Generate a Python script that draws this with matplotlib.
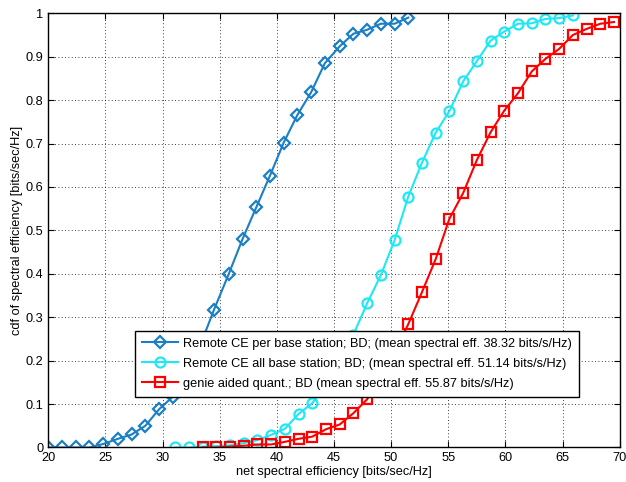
import matplotlib
matplotlib.use('Agg')
import matplotlib.pyplot as plt

plt.rcParams['font.family'] = ['Liberation Sans', 'DejaVu Sans']

# per base station remote CE
x_per = [20.0, 21.2, 22.4, 23.6, 24.8, 26.1, 27.3, 28.5, 29.7, 30.9, 32.1, 33.3, 34.5, 35.8,
         37.0, 38.2, 39.4, 40.6, 41.8, 43.0, 44.2, 45.5, 46.7, 47.9, 49.1, 50.3, 51.5]
cdf_per = [0, 0, 0, 0, 0.008, 0.02, 0.03, 0.05, 0.088, 0.117, 0.165, 0.235, 0.317, 0.40,
           0.48, 0.553, 0.626, 0.702, 0.766, 0.818, 0.885, 0.924, 0.953, 0.962, 0.976, 0.976, 0.99]

# all base station remote CE
x_all = [31.1, 32.3, 33.5, 34.7, 35.9, 37.1, 38.3, 39.5, 40.7, 41.9, 43.1, 44.3, 45.5, 46.7, 47.9,
         49.1, 50.3, 51.5, 52.7, 53.9, 55.1, 56.3, 57.5, 58.7, 59.9, 61.1, 62.3, 63.5, 64.7, 65.9]
cdf_all = [0, 0, 0.002, 0.003, 0.005, 0.01, 0.017, 0.029, 0.043, 0.077, 0.102, 0.145, 0.195, 0.26, 0.332,
           0.397, 0.477, 0.578, 0.656, 0.725, 0.775, 0.843, 0.89, 0.937, 0.958, 0.976, 0.977, 0.987, 0.989, 0.995]

# genie aided quantization
x_gen = [33.5, 34.7, 35.9, 37.1, 38.3, 39.5, 40.7, 41.9, 43.1, 44.3, 45.5, 46.7, 47.9, 49.1, 50.3, 51.5,
         52.7, 53.9, 55.1, 56.3, 57.5, 58.7, 59.9, 61.1, 62.3, 63.5, 64.7, 65.9, 67.1, 68.3, 69.5]
cdf_gen = [0, 0, 0.002, 0.004, 0.007, 0.007, 0.013, 0.02, 0.025, 0.042, 0.053, 0.079, 0.111, 0.16, 0.22, 0.284,
           0.358, 0.434, 0.527, 0.586, 0.662, 0.726, 0.776, 0.816, 0.866, 0.895, 0.918, 0.95, 0.964, 0.976, 0.98]

labels = ['Remote CE per base station; BD; (mean spectral eff. 38.32 bits/s/Hz)',
          'Remote CE all base station; BD; (mean spectral eff. 51.14 bits/s/Hz)',
          'genie aided quant.; BD (mean spectral eff. 55.87 bits/s/Hz)']

fs = 9.2
fig = plt.figure(figsize=(6.26, 4.82), dpi=100)
ax = fig.add_axes([0.077, 0.0716, 0.913, 0.9008])

ax.plot(x_per, cdf_per, '-D', color='#1a7fc4', lw=1.5, ms=6.5, mfc='none', mew=1.6, label=labels[0])
ax.plot(x_all, cdf_all, '-o', color='#1ee8f5', lw=1.5, ms=7.2, mfc='none', mew=1.6, label=labels[1])
ax.plot(x_gen, cdf_gen, '-s', color='#ff0000', lw=1.5, ms=6.6, mfc='none', mew=1.6, label=labels[2])

ax.set_xlim(20, 70)
ax.set_ylim(0, 1)
ax.set_xticks(range(20, 71, 5))
ax.set_yticks([0, 0.1, 0.2, 0.3, 0.4, 0.5, 0.6, 0.7, 0.8, 0.9, 1])
ax.set_yticklabels(['0', '0.1', '0.2', '0.3', '0.4', '0.5', '0.6', '0.7', '0.8', '0.9', '1'])
ax.grid(True, color='k', linestyle=(0, (1, 3)), linewidth=0.6)
ax.tick_params(direction='in', labelsize=fs, top=True, right=True, length=4)
for s in ax.spines.values():
    s.set_linewidth(1.0)

ax.set_xlabel('net spectral efficiency [bits/sec/Hz]', fontsize=fs, labelpad=1)
ax.set_ylabel('cdf of spectral efficiency [bits/sec/Hz]', fontsize=fs, labelpad=2)

leg = ax.legend(loc='lower left', bbox_to_anchor=(0.1526, 0.117), fontsize=fs, fancybox=False,
                framealpha=1, edgecolor='k', borderpad=0.55, labelspacing=0.62, handlelength=2.8,
                handletextpad=0.4, borderaxespad=0)
leg.get_frame().set_linewidth(1.0)

fig.savefig('out.png', dpi=100)
